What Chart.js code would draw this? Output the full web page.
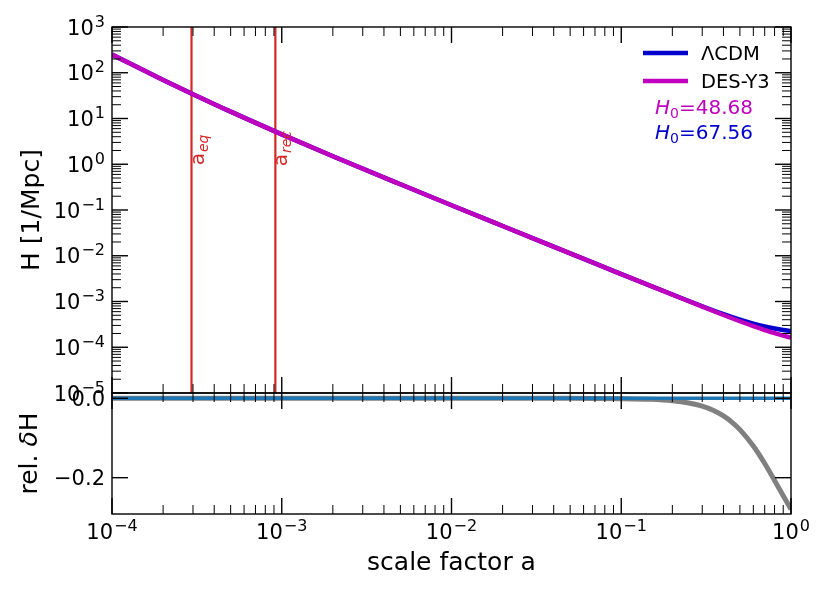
<!DOCTYPE html>
<html>
<head>
<meta charset="utf-8">
<title>Hubble rate vs scale factor</title>
<script src="https://cdn.jsdelivr.net/npm/chart.js@4.4.0/dist/chart.umd.min.js"></script>
<style>
    body { margin: 0; background: #ffffff; }
    #wrap { position: relative; width: 830px; height: 593px; }
    #wrap canvas { position: absolute; left: 0; top: 0; }
</style>
</head>
<body>
<div id="wrap">
    <canvas id="top-chart" width="830" height="593"></canvas>
    <canvas id="bottom-chart" width="830" height="593"></canvas>
</div>
<script>
// ======================= DATA =======================
const scaleFactor = [1e-4, 2e-4, 3e-4, 5e-4, 1e-3, 2e-3, 5e-3, 1e-2, 2e-2, 5e-2,
                     0.1, 0.2, 0.3, 0.4, 0.5, 0.6, 0.7, 0.8, 0.9, 1.0];
// H in 1/Mpc
const hubbleLCDM = [249, 69.7, 34.0, 14.1, 4.51, 1.50, 0.365, 0.127, 0.0447, 0.0113,
                    3.98e-3, 1.42e-3, 7.87e-4, 5.30e-4, 4.01e-4, 3.29e-4, 2.85e-4, 2.57e-4, 2.38e-4, 2.25e-4];
const hubbleDES = [249, 69.7, 34.0, 14.1, 4.51, 1.50, 0.365, 0.127, 0.0447, 0.0113,
                   3.98e-3, 1.41e-3, 7.71e-4, 5.07e-4, 3.70e-4, 2.89e-4, 2.38e-4, 2.03e-4, 1.80e-4, 1.62e-4];

// relative difference panel
const relScaleFactor = [1e-4, 1e-3, 1e-2, 0.05, 0.1, 0.15, 0.2, 0.25, 0.3, 0.35,
                        0.4, 0.45, 0.5, 0.6, 0.7, 0.8, 0.9, 1.0];
const relDeltaDES = [0, 0, 0, -0.0001, -0.0008, -0.0026, -0.0061, -0.0118, -0.0199, -0.0308,
                     -0.0444, -0.0605, -0.0789, -0.1203, -0.1643, -0.2069, -0.2457, -0.2794];
const relScaleLCDM = [1e-4, 1.0];
const relDeltaLCDM = [0, 0];

// vertical markers (equality, recombination)
const markerA = [2.94e-4, 9.17e-4];
const markerSub = ["eq", "rec"];
const markerLabelH = [0.95, 0.9];

// legend + annotations
const legendNames = ["\u039BCDM", "DES-Y3"];
const h0Texts = ["48.68", "67.56"]; // DES-Y3, ΛCDM

// tick labels
const xTickExps = [-4, -3, -2, -1, 0];
const yTickExps = [-5, -4, -3, -2, -1, 0, 1, 2, 3];
const relTicks = [0.0, -0.2];
const relTickLabels = ["0.0", "\u22120.2"];

// ======================= STYLE =======================
const FONT = '"DejaVu Sans", sans-serif';
const BLUE = "#0000cd";
const MAGENTA = "#bf00bf";
const RED = "#d62728";
const TAB_BLUE = "#1f77b4";
const GRAY = "#808080";

Chart.defaults.font.family = FONT;

function toPoints(xs, ys) {
    return xs.map((x, i) => ({ x: x, y: ys[i] }));
}

// log tick positions: majors at decades, minors at 2..9
function logTicks(minExp, maxExp) {
    const ticks = [];
    for (let e = minExp; e <= maxExp; e++) {
        ticks.push({ v: Math.pow(10, e), major: true });
        if (e < maxExp) {
            for (let k = 2; k <= 9; k++) ticks.push({ v: k * Math.pow(10, e), major: false });
        }
    }
    return ticks;
}

function line(ctx, x1, y1, x2, y2) {
    ctx.beginPath();
    ctx.moveTo(x1, y1);
    ctx.lineTo(x2, y2);
    ctx.stroke();
}

// frame + inward ticks on all four sides
function drawFrame(chart, xTicks, yTicks) {
    const { ctx, chartArea: a } = chart;
    const xs = chart.scales.x, ys = chart.scales.y;
    ctx.save();
    ctx.strokeStyle = "#000";
    xTicks.forEach(t => {
        const px = xs.getPixelForValue(t.v);
        const len = t.major ? 16 : 9;
        ctx.lineWidth = t.major ? 1.4 : 1;
        line(ctx, px, a.bottom, px, a.bottom - len);
        line(ctx, px, a.top, px, a.top + len);
    });
    yTicks.forEach(t => {
        const py = ys.getPixelForValue(t.v);
        const len = t.major ? 16 : 9;
        ctx.lineWidth = t.major ? 1.4 : 1;
        line(ctx, a.left, py, a.left + len, py);
        line(ctx, a.right, py, a.right - len, py);
    });
    ctx.lineWidth = 1.4;
    ctx.strokeRect(a.left, a.top, a.right - a.left, a.bottom - a.top);
    ctx.restore();
}

// draws "10^exp" with a raised exponent
function drawPower(ctx, exp, x, y, align) {
    const base = "10";
    const sup = exp < 0 ? "\u2212" + (-exp) : String(exp);
    ctx.font = "21px " + FONT;
    const wb = ctx.measureText(base).width;
    ctx.font = "16px " + FONT;
    const ws = ctx.measureText(sup).width + 1;
    const left = align === "right" ? x - wb - ws : x - (wb + ws) / 2;
    ctx.textAlign = "left";
    ctx.textBaseline = "alphabetic";
    ctx.font = "21px " + FONT;
    ctx.fillText(base, left, y);
    ctx.font = "16px " + FONT;
    ctx.fillText(sup, left + wb + 1, y - 8);
}

function drawRotated(ctx, parts, x, y) {
    // parts: [{text, font}], centred along the rotated direction, baseline at x
    ctx.save();
    ctx.translate(x, y);
    ctx.rotate(-Math.PI / 2);
    ctx.textBaseline = "alphabetic";
    ctx.textAlign = "left";
    let total = 0;
    parts.forEach(p => { ctx.font = p.font; total += ctx.measureText(p.text).width; });
    let cx = -total / 2;
    parts.forEach(p => {
        ctx.font = p.font;
        ctx.fillText(p.text, cx, p.dy || 0);
        cx += ctx.measureText(p.text).width;
    });
    ctx.restore();
}

// ======================= TOP PANEL =======================
const topDecor = {
    id: "topDecor",
    afterDatasetsDraw(chart) {
        const ctx = chart.ctx;
        const xs = chart.scales.x, ys = chart.scales.y;
        // a_eq / a_rec labels along the red lines
        ctx.save();
        ctx.fillStyle = RED;
        markerA.forEach((a, i) => {
            const px = xs.getPixelForValue(a) + 12;
            const py = ys.getPixelForValue(markerLabelH[i]);
            ctx.save();
            ctx.translate(px, py);
            ctx.rotate(-Math.PI / 2);
            ctx.textAlign = "left";
            ctx.textBaseline = "alphabetic";
            ctx.font = "20px " + FONT;
            ctx.fillText("a", 0, 0);
            const w = ctx.measureText("a").width;
            ctx.font = "italic 14px " + FONT;
            ctx.fillText(markerSub[i], w + 1, 4);
            ctx.restore();
        });
        ctx.restore();
    },
    afterDraw(chart) {
        const ctx = chart.ctx;
        const a = chart.chartArea;
        const ys = chart.scales.y;
        drawFrame(chart, logTicks(-4, 0), logTicks(-5, 3));

        ctx.save();
        ctx.fillStyle = "#000";
        // y tick labels
        yTickExps.forEach(e => {
            const py = ys.getPixelForValue(Math.pow(10, e));
            drawPower(ctx, e, a.left - 7, py + 7.6, "right");
        });
        // y axis title
        drawRotated(ctx, [{ text: "H [1/Mpc]", font: "25px " + FONT }], 38.5, (a.top + a.bottom) / 2);

        // legend
        const legendColors = [BLUE, MAGENTA];
        const legendY = [53, 81];
        legendNames.forEach((name, i) => {
            ctx.strokeStyle = legendColors[i];
            ctx.lineWidth = 4.5;
            line(ctx, 643, legendY[i], 688, legendY[i]);
            ctx.fillStyle = "#000";
            ctx.font = "19.5px " + FONT;
            ctx.textAlign = "left";
            ctx.textBaseline = "alphabetic";
            ctx.fillText(name, 701, legendY[i] + 7);
        });

        // H0 annotations
        const h0Colors = [MAGENTA, BLUE];
        const h0Y = [114, 138.5];
        h0Texts.forEach((val, i) => {
            let x = 655;
            ctx.fillStyle = h0Colors[i];
            ctx.font = "italic 20px " + FONT;
            ctx.fillText("H", x, h0Y[i]);
            x += ctx.measureText("H").width;
            ctx.font = "14px " + FONT;
            ctx.fillText("0", x, h0Y[i] + 4);
            x += ctx.measureText("0").width;
            ctx.font = "20px " + FONT;
            ctx.fillText("=" + val, x, h0Y[i]);
        });
        ctx.restore();
    }
};

const lineStyle = { pointRadius: 0, fill: false, clip: 0, cubicInterpolationMode: "monotone" };

new Chart(document.getElementById("top-chart"), {
    type: "line",
    data: {
        datasets: [
            Object.assign({ label: legendNames[1], data: toPoints(scaleFactor, hubbleDES),
                borderColor: MAGENTA, borderWidth: 4.5, order: 0 }, lineStyle),
            Object.assign({ label: legendNames[0], data: toPoints(scaleFactor, hubbleLCDM),
                borderColor: BLUE, borderWidth: 4.5, order: 1 }, lineStyle),
            Object.assign({ label: "a_eq", data: toPoints([markerA[0], markerA[0]], [1e-5, 1e3]),
                borderColor: RED, borderWidth: 2.2, order: 2 }, lineStyle),
            Object.assign({ label: "a_rec", data: toPoints([markerA[1], markerA[1]], [1e-5, 1e3]),
                borderColor: RED, borderWidth: 2.2, order: 3 }, lineStyle)
        ]
    },
    options: {
        responsive: false,
        animation: false,
        layout: { padding: { left: 112, top: 27, right: 39, bottom: 200 } },
        scales: {
            x: { type: "logarithmic", min: 1e-4, max: 1, display: false },
            y: { type: "logarithmic", min: 1e-5, max: 1e3, display: false }
        },
        plugins: { legend: { display: false }, tooltip: { enabled: false } }
    },
    plugins: [topDecor]
});

// ======================= BOTTOM PANEL =======================
const bottomDecor = {
    id: "bottomDecor",
    afterDraw(chart) {
        const ctx = chart.ctx;
        const a = chart.chartArea;
        const xs = chart.scales.x, ys = chart.scales.y;
        drawFrame(chart, logTicks(-4, 0), relTicks.map(v => ({ v: v, major: true })));

        ctx.save();
        ctx.fillStyle = "#000";
        // x tick labels
        xTickExps.forEach(e => {
            drawPower(ctx, e, xs.getPixelForValue(Math.pow(10, e)), a.bottom + 25, "center");
        });
        // y tick labels
        ctx.font = "21px " + FONT;
        ctx.textAlign = "right";
        ctx.textBaseline = "alphabetic";
        relTicks.forEach((v, i) => {
            ctx.fillText(relTickLabels[i], a.left - 7, ys.getPixelForValue(v) + 7.6);
        });
        // axis titles
        ctx.font = "25px " + FONT;
        ctx.textAlign = "center";
        ctx.fillText("scale factor a", (a.left + a.right) / 2, 570);
        drawRotated(ctx, [
            { text: "rel. ", font: "25px " + FONT },
            { text: "\u03B4", font: "italic 25px " + FONT },
            { text: "H", font: "25px " + FONT }
        ], 37, (a.top + a.bottom) / 2);
        ctx.restore();
    }
};

new Chart(document.getElementById("bottom-chart"), {
    type: "line",
    data: {
        datasets: [
            Object.assign({ label: "\u039BCDM", data: toPoints(relScaleLCDM, relDeltaLCDM),
                borderColor: TAB_BLUE, borderWidth: 3.5, order: 0 }, lineStyle),
            Object.assign({ label: "DES-Y3", data: toPoints(relScaleFactor, relDeltaDES),
                borderColor: GRAY, borderWidth: 5, order: 1 }, lineStyle)
        ]
    },
    options: {
        responsive: false,
        animation: false,
        layout: { padding: { left: 112, top: 393, right: 39, bottom: 79 } },
        scales: {
            x: { type: "logarithmic", min: 1e-4, max: 1, display: false },
            y: { type: "linear", min: -0.2915, max: 0.0134, display: false }
        },
        plugins: { legend: { display: false }, tooltip: { enabled: false } }
    },
    plugins: [bottomDecor]
});
</script>
</body>
</html>
